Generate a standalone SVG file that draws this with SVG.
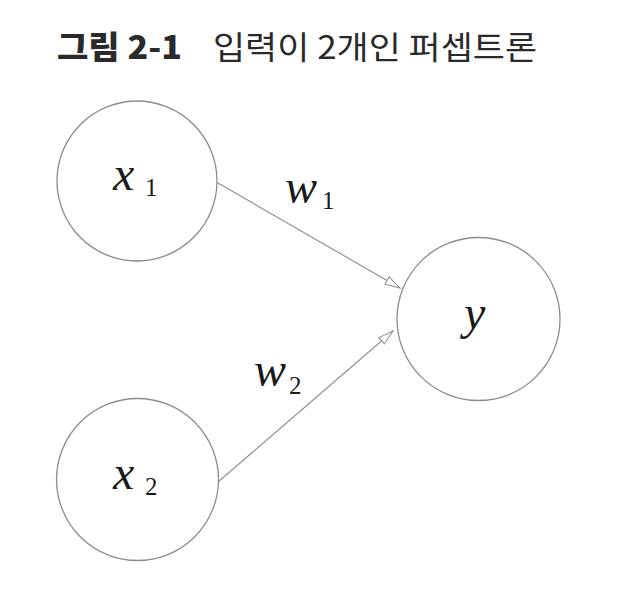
<svg xmlns="http://www.w3.org/2000/svg" width="618" height="614" viewBox="0 0 618 614">
<style>
.node{fill:#fff;stroke:#8c8c8c;stroke-width:1.3}
.edge{stroke:#8c8c8c;stroke-width:1.1;fill:none}
text.math{font-family:'Liberation Serif','Times New Roman','DejaVu Serif',serif;font-style:italic;fill:#1a1a1a}
text.sub{font-family:'Liberation Serif','Times New Roman','DejaVu Serif',serif;fill:#1a1a1a}
text.title{font-family:'Noto Sans CJK KR','Noto Sans',sans-serif;fill:#2a2a2a}
</style>
<defs>
<marker id="arr" markerUnits="userSpaceOnUse" markerWidth="20" markerHeight="12" refX="16" refY="5" orient="auto">
<path d="M1,0.8 L16,5 L1,9.2 Z" fill="#fff" stroke="#8c8c8c" stroke-width="1"/>
</marker>
</defs>
<rect width="618" height="614" fill="#fff"/>
<g id="title">
<text class="title" x="57" y="59" font-size="32" font-weight="900" textLength="125" lengthAdjust="spacingAndGlyphs">그림 2-1</text>
<text class="title" x="213" y="59" font-size="32" font-weight="400" textLength="324" lengthAdjust="spacingAndGlyphs">입력이 2개인 퍼셉트론</text>
</g>
<g id="connectors">
<line class="edge" x1="218" y1="183" x2="400" y2="288" marker-end="url(#arr)"/>
<line class="edge" x1="218" y1="482" x2="393" y2="331" marker-end="url(#arr)"/>
<text class="math" x="285" y="203" font-size="48">w</text>
<text class="sub" x="322" y="209" font-size="25">1</text>
<text class="math" x="254" y="386" font-size="48">w</text>
<text class="sub" x="289" y="394" font-size="25">2</text>
</g>
<g id="x1">
<circle class="node" cx="137" cy="181" r="80"/>
<text class="math" x="113" y="190" font-size="48">x</text>
<text class="sub" x="145" y="196" font-size="25">1</text>
</g>
<g id="x2">
<circle class="node" cx="137.5" cy="479.5" r="81"/>
<text class="math" x="113" y="489" font-size="48">x</text>
<text class="sub" x="145" y="495" font-size="25">2</text>
</g>
<g id="y">
<circle class="node" cx="478.5" cy="319" r="81.5"/>
<text class="math" x="464" y="329" font-size="48">y</text>
</g>
</svg>
